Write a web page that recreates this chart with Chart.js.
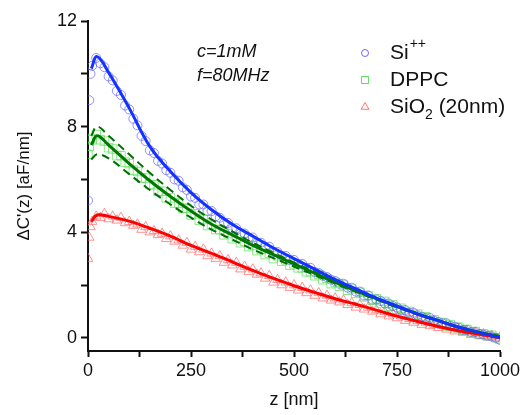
<!DOCTYPE html>
<html>
<head>
<meta charset="utf-8">
<script src="https://cdn.jsdelivr.net/npm/chart.js@4/dist/chart.umd.min.js"></script>
<style>
  html, body { margin: 0; padding: 0; background: #fff; }
  #wrap { width: 524px; height: 415px; }
</style>
</head>
<body>
<div id="wrap"><canvas id="chart" width="524" height="415"></canvas></div>
<script>
// measured points, z in nm
const zData = [0, 3, 6,
  10, 20, 30, 40, 50, 60, 70, 80, 90, 100,
  110, 120, 130, 140, 150, 160, 170, 180, 190, 200,
  210, 220, 230, 240, 250, 260, 270, 280, 290, 300,
  310, 320, 330, 340, 350, 360, 370, 380, 390, 400,
  410, 420, 430, 440, 450, 460, 470, 480, 490, 500,
  510, 520, 530, 540, 550, 560, 570, 580, 590, 600,
  610, 620, 630, 640, 650, 660, 670, 680, 690, 700,
  710, 720, 730, 740, 750, 760, 770, 780, 790, 800,
  810, 820, 830, 840, 850, 860, 870, 880, 890, 900,
  910, 920, 930, 940, 950, 960, 970, 980, 990, 1000];

const siData = [5.2, 9.0, 10.0,
  10.3, 10.6, 10.4, 10.25, 9.9, 9.75, 9.35, 9.2, 8.8, 8.65,
  8.3, 8.05, 7.65, 7.45, 7.1, 7.0, 6.7, 6.6, 6.35, 6.25,
  6.0, 5.95, 5.7, 5.6, 5.35, 5.3, 5.05, 5.05, 4.8, 4.8,
  4.6, 4.55, 4.35, 4.35, 4.15, 4.15, 3.95, 3.95, 3.8, 3.8,
  3.6, 3.6, 3.45, 3.45, 3.25, 3.25, 3.1, 3.1, 2.95, 2.95,
  2.8, 2.8, 2.65, 2.65, 2.5, 2.45, 2.35, 2.3, 2.2, 2.15,
  2.05, 2.05, 1.9, 1.9, 1.75, 1.75, 1.6, 1.6, 1.45, 1.45,
  1.4, 1.3, 1.3, 1.2, 1.15, 1.05, 1.05, 0.95, 0.95, 0.85,
  0.8, 0.75, 0.75, 0.65, 0.6, 0.55, 0.55, 0.45, 0.42, 0.38,
  0.3, 0.3, 0.22, 0.22, 0.15, 0.12, 0.08, 0.05, 0.0, -0.08];

const dppcData = [6.95, 7.25, 7.55,
  7.5, 7.7, 7.5, 7.45, 7.2, 7.15, 6.9, 6.9, 6.65, 6.6,
  6.35, 6.3, 6.05, 6.05, 5.8, 5.8, 5.55, 5.55, 5.3, 5.3,
  5.1, 5.1, 4.9, 4.9, 4.65, 4.7, 4.45, 4.5, 4.25, 4.3,
  4.1, 4.1, 3.9, 3.95, 3.75, 3.8, 3.6, 3.65, 3.45, 3.5,
  3.3, 3.35, 3.15, 3.2, 3.0, 3.1, 2.9, 2.95, 2.75, 2.8,
  2.65, 2.65, 2.5, 2.5, 2.35, 2.4, 2.2, 2.25, 2.05, 2.1,
  1.95, 2.0, 1.8, 1.85, 1.68, 1.72, 1.55, 1.6, 1.42, 1.48,
  1.32, 1.38, 1.2, 1.25, 1.08, 1.12, 0.95, 1.0, 0.85, 0.9,
  0.75, 0.8, 0.65, 0.68, 0.55, 0.58, 0.45, 0.5, 0.38, 0.4,
  0.28, 0.32, 0.2, 0.24, 0.12, 0.15, 0.08, 0.1, 0.0, -0.05];

const sio2Data = [3.0, 3.8, 4.2,
  4.4, 4.6, 4.55, 4.7, 4.5, 4.6, 4.45, 4.55, 4.35, 4.4,
  4.25, 4.3, 4.1, 4.2, 4.0, 4.05, 3.9, 3.95, 3.75, 3.85,
  3.65, 3.7, 3.5, 3.6, 3.35, 3.45, 3.25, 3.35, 3.1, 3.2,
  3.0, 3.1, 2.85, 2.95, 2.75, 2.85, 2.6, 2.7, 2.5, 2.6,
  2.4, 2.45, 2.25, 2.35, 2.1, 2.2, 2.0, 2.1, 1.9, 2.0,
  1.8, 1.9, 1.7, 1.8, 1.6, 1.7, 1.5, 1.6, 1.42, 1.5,
  1.35, 1.42, 1.25, 1.32, 1.15, 1.25, 1.08, 1.15, 1.0, 1.05,
  0.9, 0.98, 0.82, 0.9, 0.75, 0.82, 0.65, 0.72, 0.58, 0.65,
  0.5, 0.58, 0.45, 0.5, 0.38, 0.45, 0.32, 0.38, 0.25, 0.32,
  0.2, 0.25, 0.12, 0.2, 0.08, 0.14, 0.02, 0.08, -0.02, 0.02];

// fitted curves
const fitZ = [8, 22, 50, 100, 150, 200, 250, 300, 350, 400, 450, 500,
  550, 600, 650, 700, 750, 800, 850, 900, 950, 1000];
const siFit = [10.2, 10.65, 10.05, 8.7, 7.25, 6.3, 5.5, 4.85, 4.3, 3.85, 3.4, 3.0,
  2.6, 2.2, 1.85, 1.5, 1.2, 0.9, 0.65, 0.4, 0.2, 0.0];
const dppcFit = [7.3, 7.65, 7.3, 6.6, 5.95, 5.35, 4.8, 4.3, 3.9, 3.5, 3.15, 2.8,
  2.45, 2.1, 1.78, 1.48, 1.18, 0.9, 0.65, 0.4, 0.2, 0.05];
const dppcUpper = [7.65, 8.0, 7.65, 6.95, 6.25, 5.6, 5.0, 4.48, 4.03, 3.6, 3.22, 2.85,
  2.5, 2.14, 1.8, 1.5, 1.2, 0.92, 0.66, 0.41, 0.21, 0.06];
const dppcLower = [6.75, 6.95, 6.8, 6.2, 5.6, 5.05, 4.55, 4.1, 3.72, 3.35, 3.02, 2.7,
  2.38, 2.05, 1.74, 1.45, 1.15, 0.88, 0.63, 0.38, 0.18, 0.03];
const sio2Fit = [4.4, 4.65, 4.6, 4.42, 4.15, 3.85, 3.5, 3.2, 2.88, 2.55, 2.25, 1.97,
  1.72, 1.48, 1.27, 1.05, 0.82, 0.62, 0.43, 0.27, 0.13, 0.0];

const xTicks = [0, 125, 250, 375, 500, 625, 750, 875, 1000];
const xLabels = [0, 250, 500, 750, 1000];
const yTicks = [0, 2, 4, 6, 8, 10, 12];
const yLabels = [0, 4, 8, 12];

const FONT = '"Liberation Sans", Arial, sans-serif';

function pts(xs, ys) {
  return xs.map((x, i) => ({x: x, y: ys[i]}));
}

function fitLine(ys, color, dashed) {
  return {
    type: 'line',
    data: pts(fitZ, ys),
    borderColor: color,
    borderWidth: dashed ? 2 : 3,
    borderDash: dashed ? [8, 5] : [],
    pointRadius: 0,
    tension: 0.4,
    fill: false
  };
}

function markers(ys, color, style, r) {
  return {
    type: 'scatter',
    data: pts(zData, ys),
    borderColor: color,
    backgroundColor: 'rgba(0,0,0,0)',
    borderWidth: 1,
    pointStyle: style,
    pointRadius: r
  };
}

const legendItems = [
  {style: 'circle', r: 3.5, color: 'rgba(70,70,255,0.8)', y: 53, text: 'Si', sup: '++'},
  {style: 'rect', r: 5, color: 'rgba(60,210,60,0.8)', y: 80, text: 'DPPC'},
  {style: 'triangle', r: 4.5, color: 'rgba(255,80,80,0.8)', y: 107, text: 'Si', sub: 'O', sub2: '2', rest: ' (20nm)'}
];

const overlay = {
  id: 'overlay',
  afterDraw(chart) {
    let ctx = chart.ctx;
    ctx.save();
    ctx.fillStyle = '#111';
    ctx.textBaseline = 'middle';
    ctx.font = 'italic 18px ' + FONT;
    ctx.fillText('c=1mM', 197, 52);
    ctx.fillText('f=80MHz', 197, 76);

    legendItems.forEach(item => {
      ctx.save();
      ctx.strokeStyle = item.color;
      ctx.fillStyle = 'rgba(0,0,0,0)';
      ctx.lineWidth = 1;
      Chart.helpers.drawPoint(ctx, {pointStyle: item.style, radius: item.r, borderWidth: 1, rotation: 0}, 365, item.y);
      ctx.restore();

      ctx.fillStyle = '#111';
      ctx.font = '21px ' + FONT;
      let x = 390;
      ctx.fillText(item.text, x, item.y);
      x += ctx.measureText(item.text).width;
      if (item.sup) {
        ctx.font = '14px ' + FONT;
        ctx.fillText(item.sup, x + 1, item.y - 9);
      }
      if (item.sub) {
        ctx.font = '21px ' + FONT;
        ctx.fillText(item.sub, x, item.y);
        x += ctx.measureText(item.sub).width;
        ctx.font = '14px ' + FONT;
        ctx.fillText(item.sub2, x, item.y + 8);
        x += ctx.measureText(item.sub2).width;
        ctx.font = '21px ' + FONT;
        ctx.fillText(item.rest, x, item.y);
      }
    });
    ctx.restore();
  }
};

let chart = new Chart(document.getElementById('chart'), {
  type: 'scatter',
  data: {
    datasets: [
      fitLine(siFit, 'rgb(20,50,255)', false),
      fitLine(dppcFit, 'rgb(0,120,0)', false),
      fitLine(dppcUpper, 'rgb(0,110,0)', true),
      fitLine(dppcLower, 'rgb(0,110,0)', true),
      fitLine(sio2Fit, 'rgb(255,0,0)', false),
      markers(siData, 'rgba(100,100,255,0.7)', 'circle', 4.5),
      markers(dppcData, 'rgba(90,225,90,0.7)', 'rect', 6),
      markers(sio2Data, 'rgba(255,100,100,0.7)', 'triangle', 5.5)
    ]
  },
  options: {
    responsive: false,
    animation: false,
    events: [],
    layout: { padding: { left: 0, right: 24, top: 21, bottom: 0 } },
    plugins: {
      legend: { display: false },
      tooltip: { enabled: false }
    },
    scales: {
      x: {
        type: 'linear',
        min: 0,
        max: 1000,
        afterBuildTicks: s => { s.ticks = xTicks.map(v => ({value: v})); },
        afterFit: s => { s.height = 64; },
        border: { color: '#111', width: 2 },
        grid: { drawOnChartArea: false, drawTicks: true, tickLength: 6, tickColor: '#111', tickWidth: 2 },
        ticks: {
          color: '#111',
          font: { family: FONT, size: 18 },
          padding: 3,
          maxRotation: 0,
          autoSkip: false,
          callback: v => xLabels.includes(v) ? String(v) : ''
        },
        title: {
          display: true,
          text: 'z [nm]',
          color: '#111',
          font: { family: FONT, size: 18 },
          padding: { top: 0, bottom: 4 }
        }
      },
      y: {
        type: 'linear',
        min: -0.5,
        max: 12,
        afterBuildTicks: s => { s.ticks = yTicks.map(v => ({value: v})); },
        afterFit: s => { s.width = 88; },
        border: { color: '#111', width: 2 },
        grid: { drawOnChartArea: false, drawTicks: true, tickLength: 7, tickColor: '#111', tickWidth: 2 },
        ticks: {
          color: '#111',
          font: { family: FONT, size: 18 },
          padding: 4,
          autoSkip: false,
          callback: v => yLabels.includes(v) ? String(v) : ''
        },
        title: {
          display: true,
          text: "ΔC'(z) [aF/nm]",
          color: '#111',
          font: { family: FONT, size: 17 },
          padding: { top: 14, bottom: 0 }
        }
      }
    }
  },
  plugins: [overlay]
});
</script>
</body>
</html>
